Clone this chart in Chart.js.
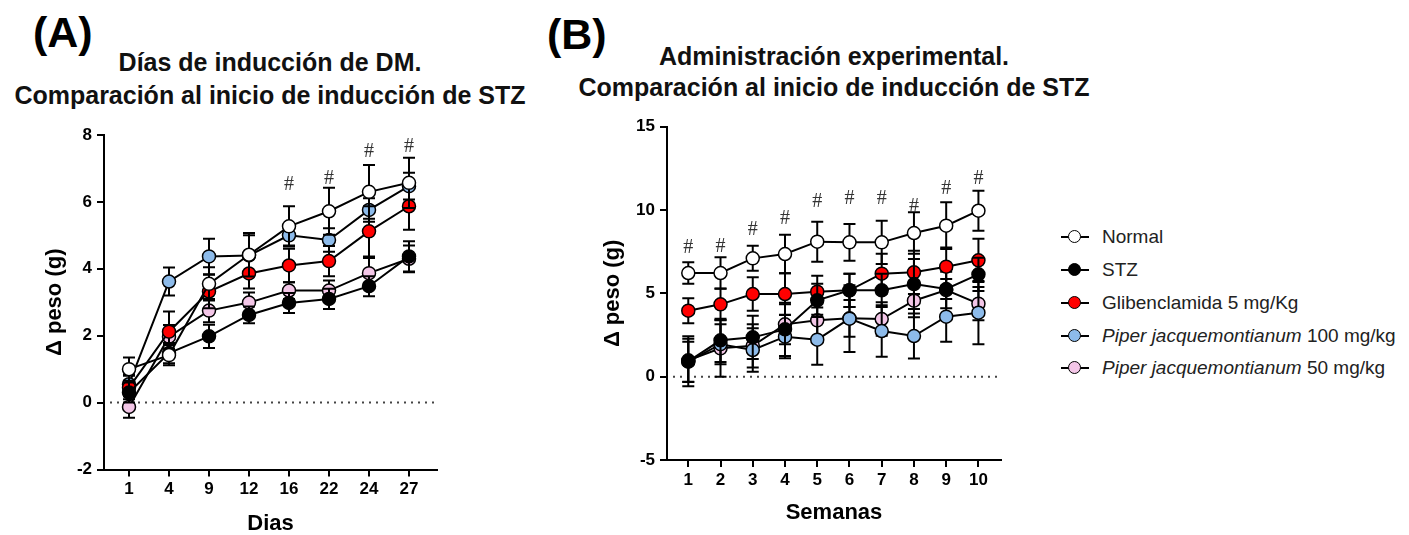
<!DOCTYPE html>
<html>
<head>
<meta charset="utf-8">
<script src="https://cdn.jsdelivr.net/npm/chart.js@4.4.0/dist/chart.umd.min.js"></script>
<style>
body{margin:0;width:1409px;height:535px;background:#fff;position:relative;overflow:hidden;font-family:"Liberation Sans",Arial,sans-serif;color:#000}
.lbl{position:absolute;font-weight:bold;font-size:43px;line-height:1}
.ttl{position:absolute;font-weight:bold;font-size:25px;text-align:center;transform:translateX(-50%);white-space:nowrap;color:#111}
#cA{position:absolute;left:0;top:100px}
#cB{position:absolute;left:560px;top:100px}
.leg{position:absolute;left:1061px;top:221px;font-size:19px;color:#222}
.row{height:32.75px;display:flex;align-items:center;white-space:nowrap}
.sym{position:relative;width:28px;height:16px;margin-right:13px;flex:none}
.sym:before{content:"";position:absolute;left:0;right:0;top:7px;height:2px;background:#000}
.sym i{position:absolute;left:7px;top:1px;width:11px;height:11px;border:1.5px solid #000;border-radius:50%}
</style>
</head>
<body>
<div class="lbl" style="left:33px;top:11px">(A)</div>
<div class="lbl" style="left:547px;top:13px">(B)</div>
<div class="ttl" style="left:270px;top:46px;line-height:33px">Días de inducción de DM.<br>Comparación al inicio de inducción de STZ</div>
<div class="ttl" style="left:834px;top:41px;line-height:31px">Administración experimental.<br>Comparación al inicio de inducción de STZ</div>
<canvas id="cA" width="470" height="435"></canvas>
<canvas id="cB" width="470" height="424"></canvas>
<div class="leg" id="leg"></div>
<script>
// series names / colours
const names = ["Normal", "STZ", "Glibenclamida 5 mg/Kg", "<i>Piper jacquemontianum</i> 100 mg/kg", "<i>Piper jacquemontianum</i> 50 mg/kg"];
const colors = ['#ffffff', '#000000', '#ff0000', '#8dbbea', '#f3c6e7'];

// panel A - dias
const dias = ["1", "4", "9", "12", "16", "22", "24", "27"];
const normalA = [1.0, 1.42, 3.55, 4.42, 5.27, 5.72, 6.3, 6.57];
const errNormalA = [0.35, 0.3, 0.5, 0.65, 0.6, 0.7, 0.8, 0.75];
const stzA = [0.3, 1.48, 1.98, 2.62, 2.98, 3.1, 3.48, 4.37];
const errStzA = [0.3, 0.3, 0.35, 0.25, 0.3, 0.3, 0.3, 0.45];
const glibA = [0.45, 2.12, 3.32, 3.86, 4.1, 4.23, 5.12, 5.87];
const errGlibA = [0.35, 0.6, 0.5, 0.45, 0.5, 0.45, 0.75, 0.7];
const p100A = [0.55, 3.62, 4.37, 4.4, 5.0, 4.86, 5.76, 6.47];
const errP100A = [0.3, 0.42, 0.53, 0.6, 0.3, 0.35, 0.35, 0.4];
const p50A = [-0.13, 1.97, 2.75, 2.99, 3.35, 3.35, 3.87, 4.3];
const errP50A = [0.32, 0.35, 0.35, 0.3, 0.25, 0.3, 0.45, 0.4];
const hashIdxA = [4, 5, 6, 7];
const hashYA = [6.5, 6.7, 7.5, 7.65];

// panel B - semanas
const semanas = ["1", "2", "3", "4", "5", "6", "7", "8", "9", "10"];
const normalB = [6.22, 6.22, 7.1, 7.36, 8.1, 8.06, 8.06, 8.62, 9.06, 9.96];
const errNormalB = [0.65, 0.95, 0.75, 1.15, 1.2, 1.1, 1.3, 1.25, 1.4, 1.2];
const stzB = [0.92, 2.18, 2.36, 2.84, 4.58, 5.18, 5.18, 5.56, 5.26, 6.14];
const errStzB = [1.5, 1.3, 1.3, 1.6, 1.0, 1.0, 1.0, 1.5, 0.6, 1.0];
const glibB = [3.96, 4.34, 4.96, 4.96, 5.1, 5.18, 6.18, 6.26, 6.6, 6.98];
const errGlibB = [0.75, 0.95, 1.0, 1.25, 0.95, 1.0, 1.2, 1.3, 1.15, 1.3];
const p100B = [0.9, 1.95, 1.6, 2.4, 2.22, 3.48, 2.74, 2.44, 3.6, 3.84];
const errP100B = [1.2, 1.2, 1.3, 1.3, 1.5, 2.0, 1.55, 1.35, 1.5, 1.9];
const p50B = [0.98, 1.7, 1.85, 3.14, 3.38, 3.5, 3.46, 4.56, 5.2, 4.38];
const errP50B = [1.3, 1.7, 1.3, 1.2, 1.0, 1.1, 1.0, 1.0, 1.1, 1.0];
const hashIdxB = [0, 1, 2, 3, 4, 5, 6, 7, 8, 9];
const hashYB = [7.72, 7.8, 8.8, 9.5, 10.5, 10.7, 10.7, 10.2, 11.3, 11.9];

// legend
let s = "";
for (let i = 0; i < names.length; i++) {
    s += `<div class="row"><span class="sym"><i style="background:${colors[i]}"></i></span><span>${names[i]}</span></div>`;
}
document.getElementById("leg").innerHTML = s;

//error bars drawn just under each dataset
const errorBars = {
    id: 'errorBars',
    beforeDatasetDraw(chart, args) {
        const ds = chart.data.datasets[args.index];
        const x = chart.scales.x, y = chart.scales.y, ctx = chart.ctx;
        ctx.save();
        ctx.strokeStyle = '#000';
        ctx.lineWidth = 2;
        ds.data.forEach((p, i) => {
            const px = x.getPixelForValue(p.x);
            const t = y.getPixelForValue(p.y + ds.err[i]);
            const b = y.getPixelForValue(p.y - ds.err[i]);
            ctx.beginPath();
            ctx.moveTo(px, t); ctx.lineTo(px, b);
            ctx.moveTo(px - 6, t); ctx.lineTo(px + 6, t);
            ctx.moveTo(px - 6, b); ctx.lineTo(px + 6, b);
            ctx.stroke();
        });
        ctx.restore();
    }
};

// dotted zero line + # marks
const marks = {
    id: 'marks',
    beforeDatasetsDraw(chart) {
        const {ctx, chartArea} = chart;
        const y0 = chart.scales.y.getPixelForValue(0);
        ctx.save();
        ctx.strokeStyle = '#444';
        ctx.lineWidth = 2;
        ctx.setLineDash([2, 5]);
        ctx.beginPath();
        ctx.moveTo(chartArea.left + 6, y0);
        ctx.lineTo(chartArea.right, y0);
        ctx.stroke();
        ctx.restore();
    },
    afterDraw(chart, args, opts) {
        const ctx = chart.ctx;
        ctx.save();
        ctx.font = '20px "Liberation Serif", serif';
        ctx.fillStyle = '#333';
        ctx.textAlign = 'center';
        ctx.textBaseline = 'middle';
        opts.idx.forEach((k, i) => {
            ctx.fillText('#', chart.scales.x.getPixelForValue(k), chart.scales.y.getPixelForValue(opts.ys[i]));
        });
        ctx.restore();
    }
};

function makeSets(series, errs) {
    return series.map((vals, k) => ({
        label: names[k],
        data: vals.map((v, i) => ({x: i, y: v})),
        err: errs[k],
        borderColor: '#000',
        borderWidth: 2,
        pointBackgroundColor: colors[k],
        pointBorderColor: '#000',
        pointBorderWidth: 1.5,
        pointRadius: 6.5,
        tension: 0
    }));
}

function axes(labels, xmin, xmax, ymin, ymax, step, xtitle, yW, xH) {
    const tickFont = {family: '"Liberation Sans", Arial, sans-serif', size: 17, weight: 'bold'};
    const titleFont = {family: '"Liberation Sans", Arial, sans-serif', size: 22, weight: 'bold', lineHeight: 1};
    return {
        x: {
            type: 'linear', min: xmin, max: xmax,
            afterBuildTicks: (a) => { a.ticks = labels.map((_, i) => ({value: i})); },
            afterFit: (a) => { a.height = xH; },
            ticks: {callback: (v) => labels[v], font: tickFont, color: '#000', padding: 3, maxRotation: 0, autoSkip: false},
            grid: {drawOnChartArea: false, color: '#000', lineWidth: 2, tickLength: 7},
            border: {color: '#000', width: 2},
            title: {display: true, text: xtitle, font: titleFont, color: '#000', padding: 0}
        },
        y: {
            min: ymin, max: ymax,
            afterFit: (a) => { a.width = yW; },
            ticks: {stepSize: step, font: tickFont, color: '#000', padding: 5},
            grid: {drawOnChartArea: false, color: '#000', lineWidth: 2, tickLength: 7},
            border: {color: '#000', width: 2},
            title: {display: true, text: 'Δ peso (g)', font: titleFont, color: '#000', padding: 0}
        }
    };
}

let chartA = new Chart(document.getElementById('cA'), {
    type: 'line',
    data: {datasets: makeSets([normalA, stzA, glibA, p100A, p50A], [errNormalA, errStzA, errGlibA, errP100A, errP50A])},
    options: {
        responsive: false, animation: false,
        layout: {padding: {left: 44, top: 35, right: 33, bottom: 0}},
        scales: axes(dias, -0.625, 7.7, -2, 8, 2, 'Dias', 60, 65.5),
        plugins: {legend: {display: false}, tooltip: {enabled: false}, marks: {idx: hashIdxA, ys: hashYA}}
    },
    plugins: [errorBars, marks]
});

let chartB = new Chart(document.getElementById('cB'), {
    type: 'line',
    data: {datasets: makeSets([normalB, stzB, glibB, p100B, p50B], [errNormalB, errStzB, errGlibB, errP100B, errP50B])},
    options: {
        responsive: false, animation: false,
        layout: {padding: {left: 42, top: 26.7, right: 29, bottom: 0}},
        scales: axes(semanas, -0.66, 9.7, -5, 15, 5, 'Semanas', 65, 64),
        plugins: {legend: {display: false}, tooltip: {enabled: false}, marks: {idx: hashIdxB, ys: hashYB}}
    },
    plugins: [errorBars, marks]
});
</script>
</body>
</html>
